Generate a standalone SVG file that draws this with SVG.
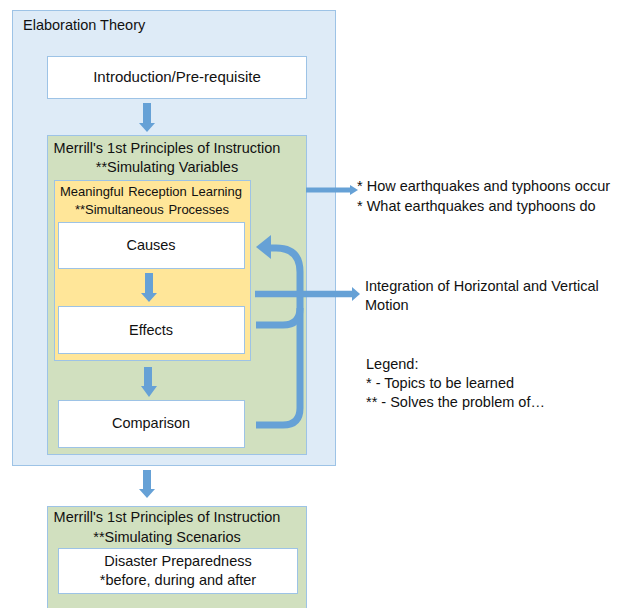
<svg xmlns="http://www.w3.org/2000/svg" width="619" height="608" viewBox="0 0 619 608">
<style>
text{font-family:"Liberation Sans",Arial,sans-serif;font-size:14.5px;fill:#111}
.c{text-anchor:middle}
.s{font-size:13px}
.box{fill:#fff;stroke:#9dc3e6;stroke-width:1}
.blk{fill:#66a1d6}
.ln{fill:none;stroke:#66a1d6;stroke-width:7}
</style>
<rect width="619" height="608" fill="#fff"/>
<g id="elaboration">
<rect x="12.5" y="10.5" width="323" height="455" fill="#deebf7" stroke="#9dc3e6"/>
<text x="23" y="30">Elaboration Theory</text>
</g>
<g id="intro">
<rect class="box" x="47.5" y="56.5" width="259" height="42"/>
<text class="c" x="177" y="82" style="font-size:15px">Introduction/Pre-requisite</text>
</g>
<g id="merrill1">
<rect x="47.5" y="135.5" width="259" height="319" fill="#d1e0bf" stroke="#9dc3e6"/>
<text class="c" x="167" y="153">Merrill's 1st Principles of Instruction</text>
<text class="c" x="167" y="172">**Simulating Variables</text>
</g>
<g id="meaningful">
<rect x="54.5" y="180.5" width="196" height="180" fill="#ffe699" stroke="#9dc3e6"/>
<text class="s" x="60" y="196" word-spacing="1">Meaningful Reception Learning</text>
<text class="s c" x="152" y="214" word-spacing="1">**Simultaneous Processes</text>
</g>
<g id="causes">
<rect class="box" x="58.5" y="222.5" width="186" height="46"/>
<text class="c" x="151" y="250">Causes</text>
</g>
<g id="effects">
<rect class="box" x="58.5" y="306.5" width="186" height="47"/>
<text class="c" x="151" y="335">Effects</text>
</g>
<g id="comparison">
<rect class="box" x="58.5" y="400.5" width="186" height="47"/>
<text class="c" x="151" y="428">Comparison</text>
</g>
<g id="merrill2">
<rect x="47.5" y="506.5" width="259" height="110" fill="#d1e0bf" stroke="#9dc3e6"/>
<text class="c" x="167" y="522">Merrill's 1st Principles of Instruction</text>
<text class="c" x="167" y="542">**Simulating Scenarios</text>
</g>
<g id="disaster">
<rect class="box" x="58.5" y="548.5" width="239" height="45"/>
<text class="c" x="178" y="566">Disaster Preparedness</text>
<text class="c" x="178" y="585">*before, during and after</text>
</g>
<g id="topics">
<text x="357" y="191">* How earthquakes and typhoons occur</text>
<text x="357" y="211">* What earthquakes and typhoons do</text>
</g>
<g id="integration">
<text x="365" y="291">Integration of Horizontal and Vertical</text>
<text x="365" y="310">Motion</text>
</g>
<g id="legend">
<text x="366" y="369">Legend:</text>
<text x="366" y="388">* - Topics to be learned</text>
<text x="366" y="407">** - Solves the problem of…</text>
</g>
<g id="connectors">
<polygon class="blk" points="143,103 151,103 151,123 155,123 147,132 139,123 143,123"/>
<polygon class="blk" points="145,273 153,273 153,293 157,293 149,302 141,293 145,293"/>
<polygon class="blk" points="144,367 152,367 152,386 157,386 149,397 141,386 144,386"/>
<polygon class="blk" points="143,470 151,470 151,489 155,489 147,498 139,489 143,489"/>
<path class="ln" d="M256 425 H283 Q300 425 300 408 V272 Q300 248 276 248 H268"/>
<polygon class="blk" points="256,247 271,235 271,259"/>
<path class="ln" d="M256 325 H283 Q300 325 300 308"/>
<line x1="306" y1="190" x2="352" y2="190" stroke="#66a1d6" stroke-width="5"/>
<polygon class="blk" points="350,185 358,190 350,195"/>
<line x1="255" y1="294" x2="354" y2="294" stroke="#66a1d6" stroke-width="6.5"/>
<polygon class="blk" points="352,287 360,294 352,301"/>
</g>
</svg>
